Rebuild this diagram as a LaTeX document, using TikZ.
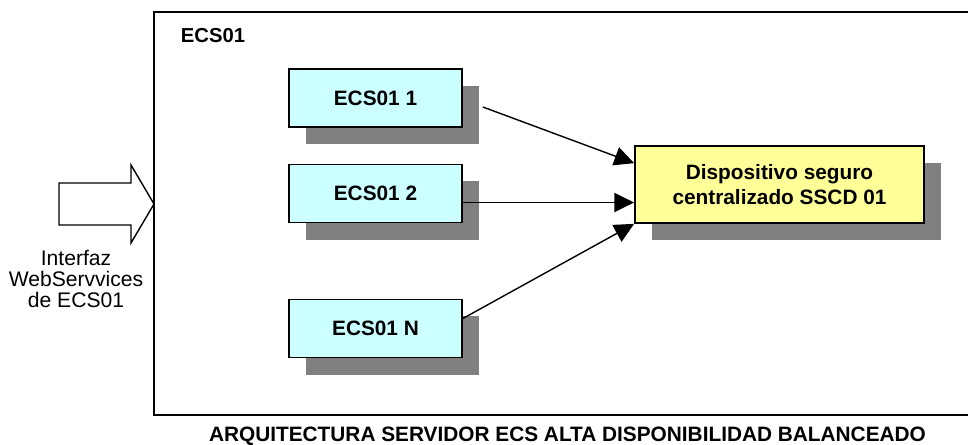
\documentclass[tikz,border=0pt]{standalone}
\usepackage{fontspec}
\setmainfont{Liberation Sans}
\usetikzlibrary{arrows.meta,shadows,math}
\definecolor{srvcyan}{RGB}{204,255,255}
\definecolor{devyellow}{RGB}{255,255,153}

\tikzset{
  srvbox/.style={draw,line width=1.2pt,fill=srvcyan,inner sep=0pt,
    minimum width=4.325cm,minimum height=1.45cm,
    font=\fontsize{14.8}{17.5}\selectfont\bfseries,
    drop shadow={shadow xshift=0.425cm,shadow yshift=-0.425cm,fill=black!50,opacity=1}},
  devbox/.style={srvbox,fill=devyellow,minimum width=7.225cm,minimum height=1.925cm,align=center},
  link/.style={line width=1pt,-{Triangle[length=14pt,width=13.5pt]}},
}

\begin{document}
\begin{tikzpicture}[x=0.025cm,y=-0.025cm]
\tikzmath{
\xs=375.5;
\xf=154;
}
\clip (0,0) rectangle (968,445);

% frame of the ECS01 group
\draw[line width=1pt] (990,12) -- (\xf,12) -- (\xf,415) -- (990,415);
\node[anchor=base west,font=\fontsize{14.4}{16}\selectfont\bfseries] (grp) at (176,43) {ECS01};

% hollow input arrow
\draw[line width=1pt,fill=white] (59,183) -- (131,183) -- (131,165) -- (\xf,204)
  -- (131,243) -- (131,225) -- (59,225) -- cycle;
\node[align=center,anchor=north,font=\fontsize{15}{15.2}\selectfont] (wsi) at (76,245)
  {Interfaz\\WebServvices\\de ECS01};

% servers and device
\node[srvbox] (s1) at (\xs,98) {ECS01 1};
\node[srvbox] (s2) at (\xs,193.5) {ECS01 2};
\node[srvbox] (sn) at (\xs,328.5) {ECS01 N};
\node[devbox] (dev) at (779.5,184.5) {Dispositivo seguro\\centralizado SSCD 01};

\coordinate (a2) at ([yshift=-0.225cm]s2.east);
\draw[link] ([xshift=0.5cm,yshift=-0.225cm]s1.east) -- ([yshift=-0.45cm]dev.north west);
\draw[link] (a2) -- (a2 -| dev.west);
\draw[link] ([yshift=0.25cm]sn.east) -- (dev.south west);

\node[font=\fontsize{14.8}{17}\selectfont\bfseries] (title) at (567.5,436)
  {ARQUITECTURA SERVIDOR ECS ALTA DISPONIBILIDAD BALANCEADO};
\end{tikzpicture}
\end{document}
